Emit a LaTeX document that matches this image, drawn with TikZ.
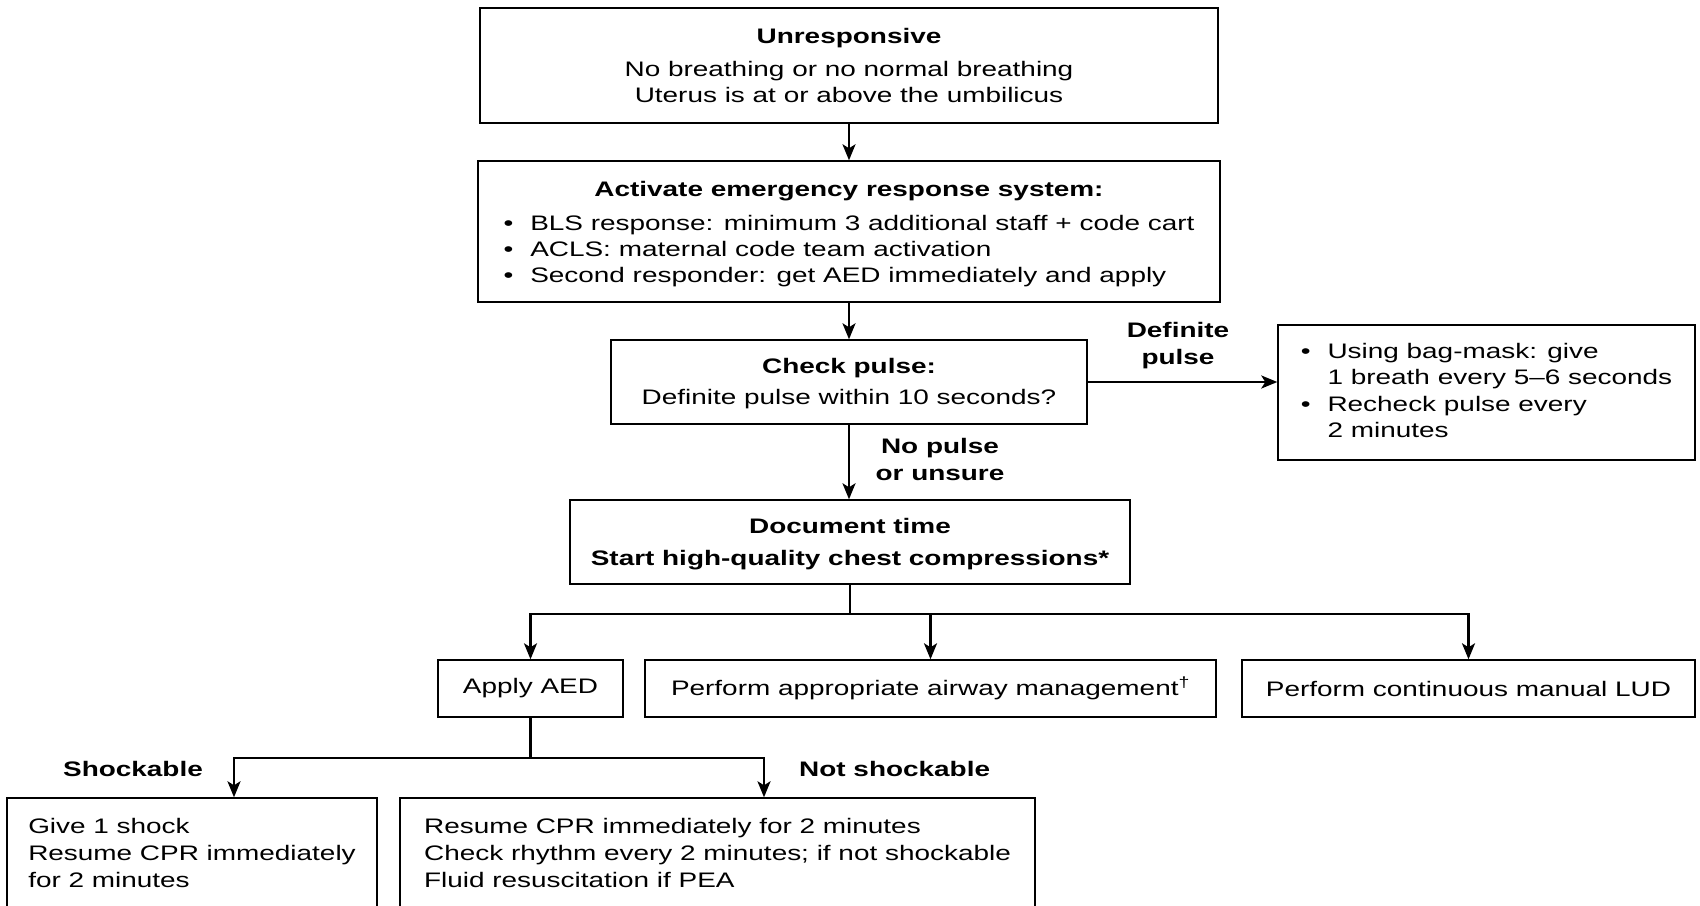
\documentclass[tikz,border=0pt]{standalone}
\usepackage{fontspec}
\setmainfont{Liberation Sans}[FakeStretch=1.33]
\usetikzlibrary{arrows.meta,positioning}

\begin{document}
\begin{tikzpicture}[x=1pt,y=-1pt,font=\fontsize{21}{26}\selectfont,
  box/.style={draw,line width=1.4pt,inner sep=0pt,align=center},
  lab/.style={font=\fontsize{21}{27}\selectfont\bfseries,align=center,inner sep=0pt},
  arr/.style={line width=2.4pt,-{Stealth[length=16pt,width=13pt,inset=4pt]}},
  line/.style={line width=2.4pt}]

\useasboundingbox (0,0) rectangle (1700,905);

\node[box,minimum width=738pt,minimum height=115pt] (unresp) at (849,65.5)
  {\textbf{Unresponsive}\\[7pt]No breathing or no normal breathing\\Uterus is at or above the umbilicus};

\node[box,minimum width=742pt,minimum height=141pt] (activate) at (849,231.5)
  {\begin{tabular}{@{}l@{\hspace{17pt}}l@{}}\multicolumn{2}{@{}c@{}}{\rule{0pt}{23.6pt}\textbf{Activate emergency response system:}}\\[7.4pt]
   \textbullet & BLS response: minimum 3 additional staff + code cart\\
   \textbullet & ACLS: maternal code team activation\\
   \textbullet & Second responder: get AED immediately and apply\end{tabular}};

\node[box,minimum width=476pt,minimum height=84pt] (check) at (849,382)
  {\rule{0pt}{19pt}\textbf{Check pulse:}\\[5pt]Definite pulse within 10 seconds?};

\node[box,minimum width=417pt,minimum height=135pt,font=\fontsize{21}{26.5}\selectfont] (bag) at (1486.5,392.5)
  {\begin{tabular}{@{}l@{\hspace{17pt}}l@{}}\textbullet & Using bag-mask: give\\
   & 1 breath every 5--6 seconds\\
   \textbullet & Recheck pulse every\\
   & 2 minutes\end{tabular}};

\node[box,minimum width=560pt,minimum height=84pt] (doc) at (850,542)
  {\rule{0pt}{19pt}\textbf{Document time}\\[6pt]\textbf{Start high-quality chest compressions*}};

% second row
\node[box,minimum width=185pt,minimum height=57pt] (aed) at (530.5,688.5) {Apply AED};
\node[box,minimum width=571pt,minimum height=57pt] (airway) at (930.5,688.5) {Perform appropriate airway management\textsuperscript{†}};
\node[box,minimum width=453pt,minimum height=57pt] (lud) at (1468.5,688.5) {Perform continuous manual LUD};

% bottom row, cut by the page edge
\node[box,minimum width=370pt,minimum height=114pt,font=\fontsize{21}{27}\selectfont] (shock) at (192,855)
  {\begin{tabular}{@{}l@{}}Give 1 shock\\Resume CPR immediately\\for 2 minutes\end{tabular}};
\node[box,minimum width=635pt,minimum height=114pt,font=\fontsize{21}{27}\selectfont] (noshock) at (717.5,855)
  {\begin{tabular}{@{}l@{}}Resume CPR immediately for 2 minutes\\Check rhythm every 2 minutes; if not shockable\\Fluid resuscitation if PEA\end{tabular}};

\node[lab] (defpulse) at (1178,346) {Definite\\pulse};
\node[lab] (nopulse) at (940,459) {No pulse\\or unsure};
\node[lab] (shk) at (133,769) {Shockable};
\node[lab,anchor=west] (notshk) at (799,769) {Not shockable};

\draw[arr] (unresp) -- (activate);
\draw[arr] (activate) -- (check);
\draw[arr] (check.south) -- (check.south |- doc.north);
\draw[arr] (check.east) -- (check.east -| bag.west);

\draw[line] (doc.south) -- ++(0,29) coordinate (split);
\foreach \b in {aed,airway,lud}
  \draw[arr] (split) -| (\b.north);

\draw[line] (aed.south) -- ++(0,40) coordinate (rhythm);
\draw[arr] (rhythm) -| ([xshift=42pt]shock.north);
\draw[arr] (rhythm) -| ([xshift=46.5pt]noshock.north);

\end{tikzpicture}
\end{document}
